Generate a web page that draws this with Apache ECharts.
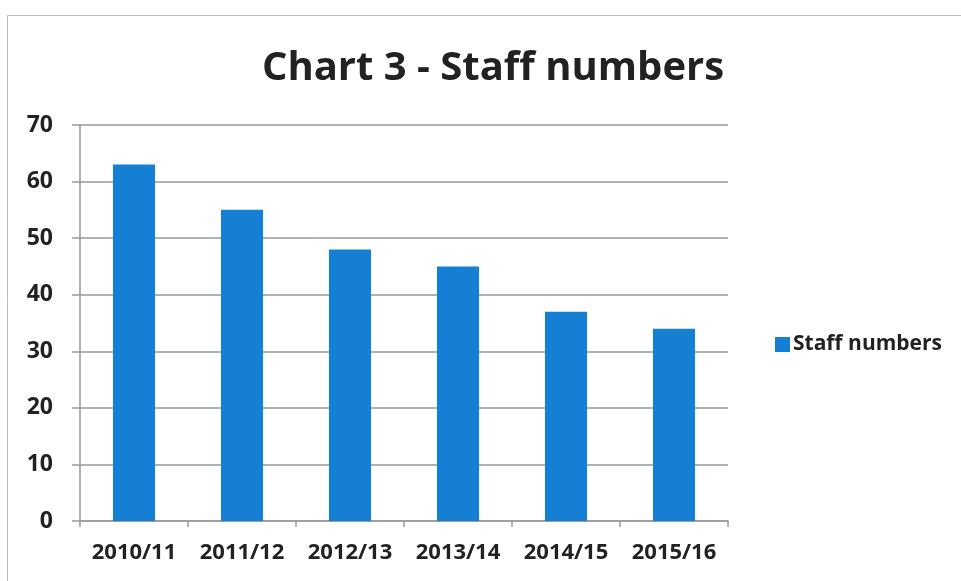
<!DOCTYPE html>
<html><head><meta charset="utf-8">
<script src="https://cdn.jsdelivr.net/npm/echarts@6/dist/echarts.min.js"></script>
<style>html,body{margin:0;padding:0;background:#fff}#c{width:961px;height:581px}</style>
</head><body><div id="c"></div>
<script>
const categories = ['2010/11','2011/12','2012/13','2013/14','2014/15','2015/16'];
const staffNumbers = [63, 55, 48, 45, 37, 34];
const seriesName = 'Staff numbers';
const titleText = 'Chart 3 - Staff numbers';

const chart = echarts.init(document.getElementById('c'));
const font = '"Open Sans", "Liberation Sans", sans-serif';
chart.setOption({
  animation: false,
  backgroundColor: '#fff',
  title: {
    text: titleText, left: 488, top: 44, textAlign: 'center',
    textStyle: {fontFamily: font, fontSize: 40, fontWeight: 'bold', color: '#222'}
  },
  legend: {
    data: [seriesName], left: 770, top: 329, itemWidth: 15, itemHeight: 15, itemGap: 6,
    icon: 'rect',
    textStyle: {fontFamily: font, fontSize: 21, fontWeight: 'bold', color: '#222', padding: [0,0,0,-2]}
  },
  grid: {left: 80, right: 233, top: 125, bottom: 60, containLabel: false},
  xAxis: {
    type: 'category', data: categories, boundaryGap: true,
    axisLine: {lineStyle: {color: '#999', width: 1.5}},
    axisTick: {show: true, interval: 0, length: 6, lineStyle: {color: '#999', width: 1.5}},
    axisLabel: {interval: 0, hideOverlap: false, fontFamily: font, fontSize: 22, fontWeight: 'bold', color: '#222', margin: 21}
  },
  yAxis: {
    type: 'value', min: 0, max: 70, interval: 10,
    axisLine: {show: true, lineStyle: {color: '#999', width: 1.5}},
    axisTick: {show: true, length: 8, lineStyle: {color: '#999', width: 1.5}},
    splitLine: {lineStyle: {color: '#999', width: 1.5}},
    axisLabel: {fontFamily: font, fontSize: 23, fontWeight: 'bold', color: '#222', margin: 27}
  },
  series: [{
    name: seriesName, type: 'bar', data: staffNumbers, barWidth: '39%',
    itemStyle: {color: '#1580d3'}
  }],
  graphic: [{
    type: 'rect', shape: {x: 7.5, y: 15.5, width: 2000, height: 2000},
    style: {fill: 'none', stroke: '#bbb', lineWidth: 1}, silent: true
  }]
});
</script></body></html>
